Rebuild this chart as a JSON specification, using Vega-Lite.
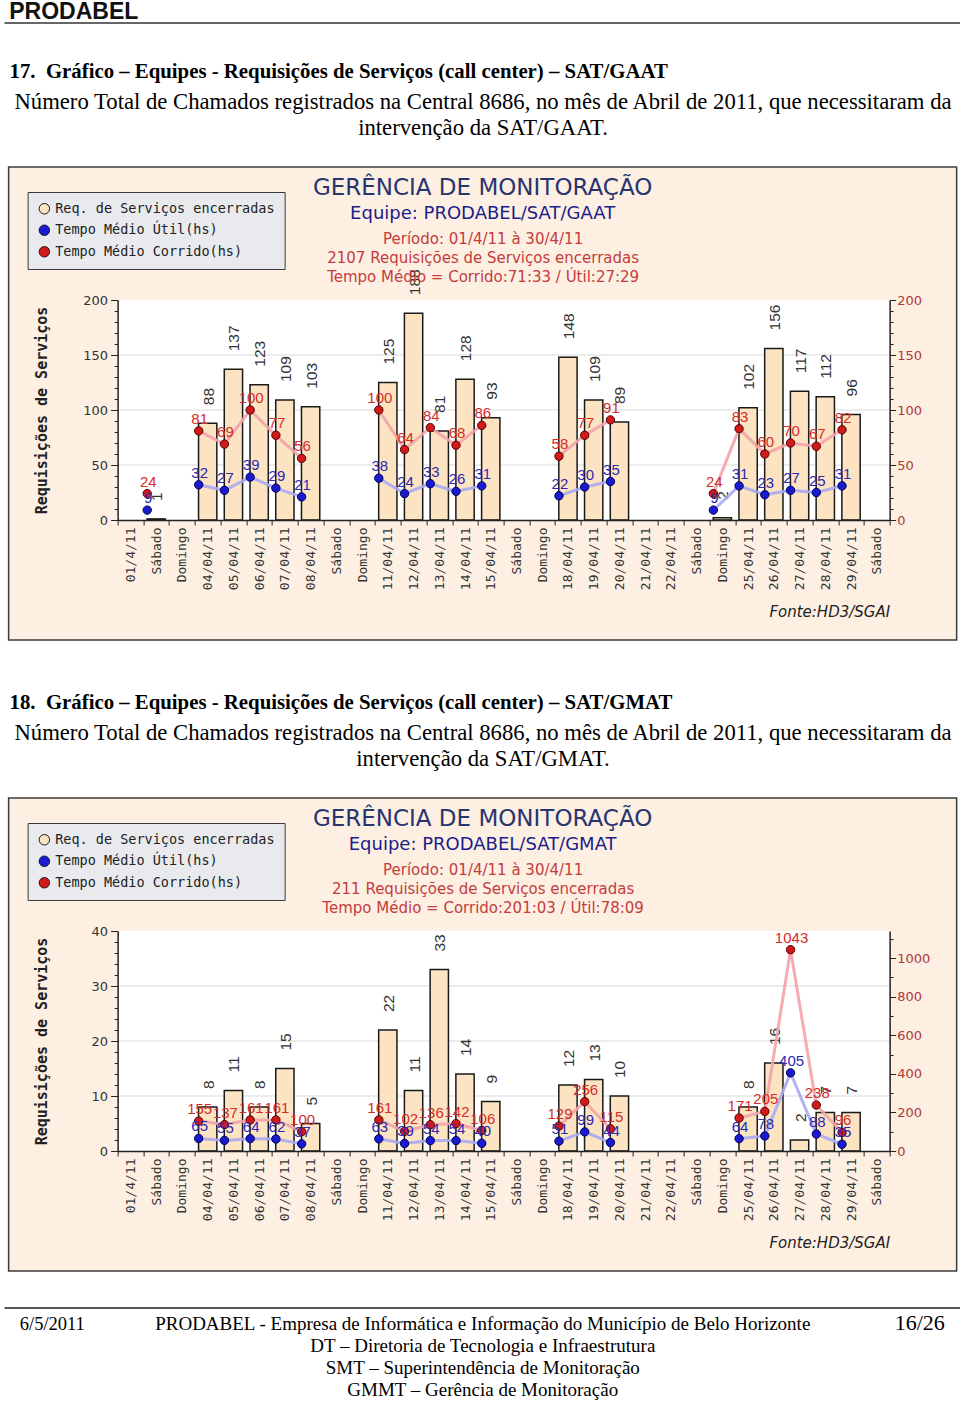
{
  "$schema": "https://vega.github.io/schema/vega-lite/v6.json",
  "background": "white",
  "padding": {"left": 3, "top": 0, "right": 0, "bottom": 0},
  "spacing": 0,
  "center": true,
  "resolve": {"scale": {"color": "independent"}, "legend": {"color": "independent"}},
  "config": {
    "view": {"stroke": null},
    "concat": {"spacing": 0},
    "title": {"fontWeight": "normal"},
    "axis": {"labelOverlap": false, "labelFlush": false, "grid": false}
  },
  "datasets": {
    "gaat": [
      {"dia": 1, "req": null, "util": null, "corrido": null},
      {"dia": 2, "req": 1, "util": 9, "corrido": 24},
      {"dia": 3, "req": null, "util": null, "corrido": null},
      {"dia": 4, "req": 88, "util": 32, "corrido": 81},
      {"dia": 5, "req": 137, "util": 27, "corrido": 69},
      {"dia": 6, "req": 123, "util": 39, "corrido": 100},
      {"dia": 7, "req": 109, "util": 29, "corrido": 77},
      {"dia": 8, "req": 103, "util": 21, "corrido": 56},
      {"dia": 9, "req": null, "util": null, "corrido": null},
      {"dia": 10, "req": null, "util": null, "corrido": null},
      {"dia": 11, "req": 125, "util": 38, "corrido": 100},
      {"dia": 12, "req": 188, "util": 24, "corrido": 64},
      {"dia": 13, "req": 81, "util": 33, "corrido": 84},
      {"dia": 14, "req": 128, "util": 26, "corrido": 68},
      {"dia": 15, "req": 93, "util": 31, "corrido": 86},
      {"dia": 16, "req": null, "util": null, "corrido": null},
      {"dia": 17, "req": null, "util": null, "corrido": null},
      {"dia": 18, "req": 148, "util": 22, "corrido": 58},
      {"dia": 19, "req": 109, "util": 30, "corrido": 77},
      {"dia": 20, "req": 89, "util": 35, "corrido": 91},
      {"dia": 21, "req": null, "util": null, "corrido": null},
      {"dia": 22, "req": null, "util": null, "corrido": null},
      {"dia": 23, "req": null, "util": null, "corrido": null},
      {"dia": 24, "req": 2, "util": 9, "corrido": 24},
      {"dia": 25, "req": 102, "util": 31, "corrido": 83},
      {"dia": 26, "req": 156, "util": 23, "corrido": 60},
      {"dia": 27, "req": 117, "util": 27, "corrido": 70},
      {"dia": 28, "req": 112, "util": 25, "corrido": 67},
      {"dia": 29, "req": 96, "util": 31, "corrido": 82},
      {"dia": 30, "req": null, "util": null, "corrido": null}
    ],
    "gmat": [
      {"dia": 1, "req": null, "util": null, "corrido": null},
      {"dia": 2, "req": null, "util": null, "corrido": null},
      {"dia": 3, "req": null, "util": null, "corrido": null},
      {"dia": 4, "req": 8, "util": 65, "corrido": 155},
      {"dia": 5, "req": 11, "util": 55, "corrido": 137},
      {"dia": 6, "req": 8, "util": 64, "corrido": 161},
      {"dia": 7, "req": 15, "util": 62, "corrido": 161},
      {"dia": 8, "req": 5, "util": 37, "corrido": 100},
      {"dia": 9, "req": null, "util": null, "corrido": null},
      {"dia": 10, "req": null, "util": null, "corrido": null},
      {"dia": 11, "req": 22, "util": 63, "corrido": 161},
      {"dia": 12, "req": 11, "util": 39, "corrido": 102},
      {"dia": 13, "req": 33, "util": 54, "corrido": 136},
      {"dia": 14, "req": 14, "util": 54, "corrido": 142},
      {"dia": 15, "req": 9, "util": 40, "corrido": 106},
      {"dia": 16, "req": null, "util": null, "corrido": null},
      {"dia": 17, "req": null, "util": null, "corrido": null},
      {"dia": 18, "req": 12, "util": 51, "corrido": 129},
      {"dia": 19, "req": 13, "util": 99, "corrido": 256},
      {"dia": 20, "req": 10, "util": 44, "corrido": 115},
      {"dia": 21, "req": null, "util": null, "corrido": null},
      {"dia": 22, "req": null, "util": null, "corrido": null},
      {"dia": 23, "req": null, "util": null, "corrido": null},
      {"dia": 24, "req": null, "util": null, "corrido": null},
      {"dia": 25, "req": 8, "util": 64, "corrido": 171},
      {"dia": 26, "req": 16, "util": 78, "corrido": 205},
      {"dia": 27, "req": 2, "util": 405, "corrido": 1043},
      {"dia": 28, "req": 7, "util": 88, "corrido": 238},
      {"dia": 29, "req": 7, "util": 35, "corrido": 96},
      {"dia": 30, "req": null, "util": null, "corrido": null}
    ]
  },
  "vconcat": [
    {
      "width": 957, "height": 1,
      "data": {"values": []}, "mark": "point",
      "view": {"stroke": "#666666", "strokeWidth": 1},
      "title": {"text": "PRODABEL", "anchor": "start", "frame": "group", "dx": 5, "offset": -2, "font": "Liberation Sans", "fontSize": 23, "fontWeight": "bold", "color": "#111111"}
    },
    {"width": 957, "height": 36, "data": {"values": []}, "mark": "point"},
    {
      "width": 957, "height": 8,
      "data": {"values": []}, "mark": "point",
      "title": {"text": "17.\u00a0 Gráfico – Equipes - Requisições de Serviços (call center) – SAT/GAAT", "anchor": "start", "frame": "group", "dx": 5, "offset": 0, "font": "Liberation Serif", "fontSize": 20.8, "fontWeight": "bold", "color": "#000000"}
    },
    {
      "width": 957, "height": 25.5,
      "data": {"values": []}, "mark": "point",
      "title": {"text": ["Número Total de Chamados registrados na Central 8686, no mês de Abril de 2011, que necessitaram da", "intervenção da SAT/GAAT."], "anchor": "middle", "frame": "group", "offset": 0, "lineHeight": 26, "font": "Liberation Serif", "fontSize": 22.7, "color": "#000000"}
    },
    {
      "width": 948, "height": 473,
      "data": {"name": "gaat"},
      "view": {"fill": "#fdf0e3", "stroke": "#3c3c3c", "strokeWidth": 1.5},
      "title": {"text": "GERÊNCIA DE MONITORAÇÃO", "subtitle": "Equipe: PRODABEL/SAT/GAAT", "anchor": "middle", "frame": "group", "offset": -56.3, "font": "DejaVu Sans", "fontSize": 23, "color": "#28356f", "subtitleFont": "DejaVu Sans", "subtitleFontSize": 18, "subtitleColor": "#1c1c8a", "subtitlePadding": 5},
      "layer": [
        {
          "layer": [
            {
              "data": {"values": [{"area": "plot"}]},
              "mark": {"type": "rect", "fill": "white"},
              "encoding": {
                "x": {"datum": 0.5, "type": "quantitative", "scale": {"domain": [0.5, 30.5], "range": [109, 881], "nice": false, "zero": false, "padding": 0}},
                "x2": {"datum": 30.5},
                "y": {"datum": 0, "type": "quantitative", "scale": {"domain": [0, 200], "range": [353, 133], "nice": false, "zero": true}},
                "y2": {"datum": 200}
              }
            },
            {
              "data": {"values": [{"grade": 50}, {"grade": 100}, {"grade": 150}]},
              "mark": {"type": "rule", "color": "#d9d9d9", "strokeWidth": 1},
              "encoding": {
                "x": {"datum": 0.5, "type": "quantitative"},
                "x2": {"datum": 30.5},
                "y": {"field": "grade", "type": "quantitative"}
              }
            },
            {
              "mark": {"type": "bar", "width": 18.3, "stroke": "#1a1a1a", "strokeWidth": 1.5, "invalid": "filter"},
              "encoding": {
                "x": {"field": "dia", "type": "quantitative", "axis": {
                  "orient": "bottom", "offset": -120, "zindex": 1, "labelOverlap": false, "labelFlush": false, "tickCount": 1000,
                  "values": [0.5,1.5,2.5,3.5,4.5,5.5,6.5,7.5,8.5,9.5,10.5,11.5,12.5,13.5,14.5,15.5,16.5,17.5,18.5,19.5,20.5,21.5,22.5,23.5,24.5,25.5,26.5,27.5,28.5,29.5,30.5],
                  "labelExpr": "datum.value > 30 ? '' : ['01/4/11','Sábado','Domingo','04/04/11','05/04/11','06/04/11','07/04/11','08/04/11','Sábado','Domingo','11/04/11','12/04/11','13/04/11','14/04/11','15/04/11','Sábado','Domingo','18/04/11','19/04/11','20/04/11','21/04/11','22/04/11','Sábado','Domingo','25/04/11','26/04/11','27/04/11','28/04/11','29/04/11','Sábado'][round(datum.value - 0.5)]",
                  "labelOffset": 12.87, "labelAngle": 270, "labelAlign": "right", "labelBaseline": "middle", "labelPadding": 2,
                  "labelFont": "DejaVu Sans Mono", "labelFontSize": 13, "labelColor": "#333333", "labelBound": false,
                  "tickSize": 5, "tickColor": "#222222", "domainColor": "#222222", "domainWidth": 1.5,
                  "title": "Fonte:HD3/SGAI", "titleX": 881, "titleY": 96, "titleAlign": "right", "titleBaseline": "alphabetic",
                  "titleFont": "DejaVu Sans", "titleFontStyle": "italic", "titleFontSize": 15, "titleFontWeight": "normal", "titleColor": "#222222"
                }},
                "y": {"field": "req", "type": "quantitative", "axis": {
                  "orient": "left", "offset": -109, "zindex": 1, "labelOverlap": false, "labelFlush": false, "tickCount": 1000, "format": "d",
                  "values": [0,10,20,30,40,50,60,70,80,90,100,110,120,130,140,150,160,170,180,190,200],
                  "labelExpr": "datum.value % 50 === 0 ? datum.label : ''",
                  "tickSize": {"condition": {"test": "datum.value % 50 === 0", "value": 7}, "value": 3.5},
                  "labelPadding": 3, "labelFont": "DejaVu Sans", "labelFontSize": 13, "labelColor": "#333333",
                  "tickColor": "#222222", "domainColor": "#222222", "domainWidth": 1.5,
                  "title": "Requisições de Serviços", "titleX": -76, "titleY": 243, "titleAngle": 270, "titleAlign": "center", "titleBaseline": "middle",
                  "titleFont": "DejaVu Sans Mono", "titleFontWeight": "bold", "titleFontSize": 15, "titleColor": "#222222"
                }},
                "color": {"datum": "Req. de Serviços encerradas", "type": "nominal",
                  "scale": {"domain": ["Req. de Serviços encerradas", "Tempo Médio Útil(hs)", "Tempo Médio Corrido(hs)"], "range": ["#fce4c2", "#1a1ad0", "#d21a1a"]},
                  "legend": {"title": null, "orient": "none", "legendX": 19, "legendY": 25, "direction": "vertical",
                    "fillColor": "#e8eaee", "strokeColor": "#3a3a3a", "padding": 10,
                    "symbolType": "circle", "symbolSize": 110, "symbolStrokeWidth": 1,
                    "labelFont": "DejaVu Sans Mono", "labelFontSize": 13.5, "labelColor": "#222222", "labelOffset": 4, "rowPadding": 6.5, "labelLimit": 400,
                    "encode": {"symbols": {
                      "shape": {"condition": {"test": "datum.value === 'Req. de Serviços encerradas'", "value": "square"}, "value": "circle"},
                      "stroke": {"condition": {"test": "datum.value === 'Req. de Serviços encerradas'", "value": "#555555"}, "value": "#333333"},
                      "strokeWidth": {"value": 1}
                    }}
                  }
                }
              }
            },
            {
              "mark": {"type": "text", "angle": 270, "align": "left", "baseline": "middle", "dx": 18, "dy": 1, "font": "Liberation Sans", "fontSize": 15.5, "color": "#333333", "invalid": "filter"},
              "encoding": {
                "x": {"field": "dia", "type": "quantitative"},
                "y": {"field": "req", "type": "quantitative"},
                "text": {"field": "req", "type": "quantitative"}
              }
            }
          ]
        },
        {
          "layer": [
            {
              "mark": {"type": "line", "stroke": "#f3a3aa", "strokeWidth": 3, "opacity": 0.9, "xOffset": -9, "invalid": "break-paths-filter-domains"},
              "encoding": {
                "x": {"field": "dia", "type": "quantitative"},
                "y": {"field": "corrido", "type": "quantitative", "scale": {"domain": [0, 200], "range": [353, 133], "nice": false, "zero": true}, "axis": {
                  "orient": "right", "offset": -67, "zindex": 1, "labelOverlap": false, "labelFlush": false, "tickCount": 1000, "format": "d",
                  "values": [0,10,20,30,40,50,60,70,80,90,100,110,120,130,140,150,160,170,180,190,200],
                  "labelExpr": "datum.value % 50 === 0 ? datum.label : ''",
                  "tickSize": {"condition": {"test": "datum.value % 50 === 0", "value": 6}, "value": 3.5},
                  "labelPadding": 1, "labelFont": "DejaVu Sans", "labelFontSize": 13, "labelColor": "#b03636",
                  "tickColor": "#222222", "domainColor": "#222222", "domainWidth": 1.5,
                  "title": ["Período: 01/4/11 à 30/4/11", "2107 Requisições de Serviços encerradas", "Tempo Médio = Corrido:71:33 / Útil:27:29"],
                  "titleAngle": 0, "titleX": -407, "titleY": 76, "titleAlign": "center", "titleBaseline": "alphabetic", "titleLineHeight": 19,
                  "titleFont": "DejaVu Sans", "titleFontSize": 15, "titleFontWeight": "normal", "titleColor": "#c43c3c"
                }}
              }
            },
            {
              "mark": {"type": "line", "stroke": "#a9a9f2", "strokeWidth": 3, "opacity": 0.9, "xOffset": -9, "invalid": "break-paths-filter-domains"},
              "encoding": {
                "x": {"field": "dia", "type": "quantitative"},
                "y": {"field": "util", "type": "quantitative"}
              }
            },
            {
              "mark": {"type": "point", "filled": true, "size": 70, "stroke": "#550000", "strokeWidth": 1, "opacity": 1, "xOffset": -9, "invalid": "filter"},
              "encoding": {
                "x": {"field": "dia", "type": "quantitative"},
                "y": {"field": "corrido", "type": "quantitative"},
                "color": {"datum": "Tempo Médio Corrido(hs)", "type": "nominal"}
              }
            },
            {
              "mark": {"type": "point", "filled": true, "size": 70, "stroke": "#000055", "strokeWidth": 1, "opacity": 1, "xOffset": -9, "invalid": "filter"},
              "encoding": {
                "x": {"field": "dia", "type": "quantitative"},
                "y": {"field": "util", "type": "quantitative"},
                "color": {"datum": "Tempo Médio Útil(hs)", "type": "nominal"}
              }
            },
            {
              "mark": {"type": "text", "dx": -8, "dy": -7, "align": "center", "baseline": "alphabetic", "font": "Liberation Sans", "fontSize": 15, "color": "#d42c2c", "invalid": "filter"},
              "encoding": {
                "x": {"field": "dia", "type": "quantitative"},
                "y": {"field": "corrido", "type": "quantitative"},
                "text": {"field": "corrido", "type": "quantitative"}
              }
            },
            {
              "mark": {"type": "text", "dx": -8, "dy": -7, "align": "center", "baseline": "alphabetic", "font": "Liberation Sans", "fontSize": 15, "color": "#2a2ab4", "invalid": "filter"},
              "encoding": {
                "x": {"field": "dia", "type": "quantitative"},
                "y": {"field": "util", "type": "quantitative"},
                "text": {"field": "util", "type": "quantitative"}
              }
            }
          ]
        }
      ],
      "resolve": {"scale": {"y": "independent"}, "axis": {"y": "independent"}}
    },
    {"width": 957, "height": 51, "data": {"values": []}, "mark": "point"},
    {
      "width": 957, "height": 8,
      "data": {"values": []}, "mark": "point",
      "title": {"text": "18.\u00a0 Gráfico – Equipes - Requisições de Serviços (call center) – SAT/GMAT", "anchor": "start", "frame": "group", "dx": 5, "offset": 0, "font": "Liberation Serif", "fontSize": 20.8, "fontWeight": "bold", "color": "#000000"}
    },
    {
      "width": 957, "height": 25.5,
      "data": {"values": []}, "mark": "point",
      "title": {"text": ["Número Total de Chamados registrados na Central 8686, no mês de Abril de 2011, que necessitaram da", "intervenção da SAT/GMAT."], "anchor": "middle", "frame": "group", "offset": 0, "lineHeight": 26, "font": "Liberation Serif", "fontSize": 22.7, "color": "#000000"}
    },
    {
      "width": 948, "height": 473,
      "data": {"name": "gmat"},
      "view": {"fill": "#fdf0e3", "stroke": "#3c3c3c", "strokeWidth": 1.5},
      "title": {"text": "GERÊNCIA DE MONITORAÇÃO", "subtitle": "Equipe: PRODABEL/SAT/GMAT", "anchor": "middle", "frame": "group", "offset": -56.3, "font": "DejaVu Sans", "fontSize": 23, "color": "#28356f", "subtitleFont": "DejaVu Sans", "subtitleFontSize": 18, "subtitleColor": "#1c1c8a", "subtitlePadding": 5},
      "layer": [
        {
          "layer": [
            {
              "data": {"values": [{"area": "plot"}]},
              "mark": {"type": "rect", "fill": "white"},
              "encoding": {
                "x": {"datum": 0.5, "type": "quantitative", "scale": {"domain": [0.5, 30.5], "range": [109, 881], "nice": false, "zero": false, "padding": 0}},
                "x2": {"datum": 30.5},
                "y": {"datum": 0, "type": "quantitative", "scale": {"domain": [0, 40], "range": [353, 133], "nice": false, "zero": true}},
                "y2": {"datum": 40}
              }
            },
            {
              "data": {"values": [{"grade": 10}, {"grade": 20}, {"grade": 30}]},
              "mark": {"type": "rule", "color": "#d9d9d9", "strokeWidth": 1},
              "encoding": {
                "x": {"datum": 0.5, "type": "quantitative"},
                "x2": {"datum": 30.5},
                "y": {"field": "grade", "type": "quantitative"}
              }
            },
            {
              "mark": {"type": "bar", "width": 18.3, "stroke": "#1a1a1a", "strokeWidth": 1.5, "invalid": "filter"},
              "encoding": {
                "x": {"field": "dia", "type": "quantitative", "axis": {
                  "orient": "bottom", "offset": -120, "zindex": 1, "labelOverlap": false, "labelFlush": false, "tickCount": 1000,
                  "values": [0.5,1.5,2.5,3.5,4.5,5.5,6.5,7.5,8.5,9.5,10.5,11.5,12.5,13.5,14.5,15.5,16.5,17.5,18.5,19.5,20.5,21.5,22.5,23.5,24.5,25.5,26.5,27.5,28.5,29.5,30.5],
                  "labelExpr": "datum.value > 30 ? '' : ['01/4/11','Sábado','Domingo','04/04/11','05/04/11','06/04/11','07/04/11','08/04/11','Sábado','Domingo','11/04/11','12/04/11','13/04/11','14/04/11','15/04/11','Sábado','Domingo','18/04/11','19/04/11','20/04/11','21/04/11','22/04/11','Sábado','Domingo','25/04/11','26/04/11','27/04/11','28/04/11','29/04/11','Sábado'][round(datum.value - 0.5)]",
                  "labelOffset": 12.87, "labelAngle": 270, "labelAlign": "right", "labelBaseline": "middle", "labelPadding": 2,
                  "labelFont": "DejaVu Sans Mono", "labelFontSize": 13, "labelColor": "#333333", "labelBound": false,
                  "tickSize": 5, "tickColor": "#222222", "domainColor": "#222222", "domainWidth": 1.5,
                  "title": "Fonte:HD3/SGAI", "titleX": 881, "titleY": 96, "titleAlign": "right", "titleBaseline": "alphabetic",
                  "titleFont": "DejaVu Sans", "titleFontStyle": "italic", "titleFontSize": 15, "titleFontWeight": "normal", "titleColor": "#222222"
                }},
                "y": {"field": "req", "type": "quantitative", "axis": {
                  "orient": "left", "offset": -109, "zindex": 1, "labelOverlap": false, "labelFlush": false, "tickCount": 1000, "format": "d",
                  "values": [0,2,4,6,8,10,12,14,16,18,20,22,24,26,28,30,32,34,36,38,40],
                  "labelExpr": "datum.value % 10 === 0 ? datum.label : ''",
                  "tickSize": {"condition": {"test": "datum.value % 10 === 0", "value": 7}, "value": 3.5},
                  "labelPadding": 3, "labelFont": "DejaVu Sans", "labelFontSize": 13, "labelColor": "#333333",
                  "tickColor": "#222222", "domainColor": "#222222", "domainWidth": 1.5,
                  "title": "Requisições de Serviços", "titleX": -76, "titleY": 243, "titleAngle": 270, "titleAlign": "center", "titleBaseline": "middle",
                  "titleFont": "DejaVu Sans Mono", "titleFontWeight": "bold", "titleFontSize": 15, "titleColor": "#222222"
                }},
                "color": {"datum": "Req. de Serviços encerradas", "type": "nominal",
                  "scale": {"domain": ["Req. de Serviços encerradas", "Tempo Médio Útil(hs)", "Tempo Médio Corrido(hs)"], "range": ["#fce4c2", "#1a1ad0", "#d21a1a"]},
                  "legend": {"title": null, "orient": "none", "legendX": 19, "legendY": 25, "direction": "vertical",
                    "fillColor": "#e8eaee", "strokeColor": "#3a3a3a", "padding": 10,
                    "symbolType": "circle", "symbolSize": 110, "symbolStrokeWidth": 1,
                    "labelFont": "DejaVu Sans Mono", "labelFontSize": 13.5, "labelColor": "#222222", "labelOffset": 4, "rowPadding": 6.5, "labelLimit": 400,
                    "encode": {"symbols": {
                      "shape": {"condition": {"test": "datum.value === 'Req. de Serviços encerradas'", "value": "square"}, "value": "circle"},
                      "stroke": {"condition": {"test": "datum.value === 'Req. de Serviços encerradas'", "value": "#555555"}, "value": "#333333"},
                      "strokeWidth": {"value": 1}
                    }}
                  }
                }
              }
            },
            {
              "mark": {"type": "text", "angle": 270, "align": "left", "baseline": "middle", "dx": 18, "dy": 1, "font": "Liberation Sans", "fontSize": 15.5, "color": "#333333", "invalid": "filter"},
              "encoding": {
                "x": {"field": "dia", "type": "quantitative"},
                "y": {"field": "req", "type": "quantitative"},
                "text": {"field": "req", "type": "quantitative"}
              }
            }
          ]
        },
        {
          "layer": [
            {
              "mark": {"type": "line", "stroke": "#f3a3aa", "strokeWidth": 3, "opacity": 0.9, "xOffset": -9, "invalid": "break-paths-filter-domains"},
              "encoding": {
                "x": {"field": "dia", "type": "quantitative"},
                "y": {"field": "corrido", "type": "quantitative", "scale": {"domain": [0, 1140], "range": [353, 133], "nice": false, "zero": true}, "axis": {
                  "orient": "right", "offset": -67, "zindex": 1, "labelOverlap": false, "labelFlush": false, "tickCount": 1000, "format": "d",
                  "values": [0,100,200,300,400,500,600,700,800,900,1000,1100],
                  "labelExpr": "datum.value % 200 === 0 ? datum.label : ''",
                  "tickSize": {"condition": {"test": "datum.value % 200 === 0", "value": 6}, "value": 3.5},
                  "labelPadding": 1, "labelFont": "DejaVu Sans", "labelFontSize": 13, "labelColor": "#b03636",
                  "tickColor": "#222222", "domainColor": "#222222", "domainWidth": 1.5,
                  "title": ["Período: 01/4/11 à 30/4/11", "211 Requisições de Serviços encerradas", "Tempo Médio = Corrido:201:03 / Útil:78:09"],
                  "titleAngle": 0, "titleX": -407, "titleY": 76, "titleAlign": "center", "titleBaseline": "alphabetic", "titleLineHeight": 19,
                  "titleFont": "DejaVu Sans", "titleFontSize": 15, "titleFontWeight": "normal", "titleColor": "#c43c3c"
                }}
              }
            },
            {
              "mark": {"type": "line", "stroke": "#a9a9f2", "strokeWidth": 3, "opacity": 0.9, "xOffset": -9, "invalid": "break-paths-filter-domains"},
              "encoding": {
                "x": {"field": "dia", "type": "quantitative"},
                "y": {"field": "util", "type": "quantitative"}
              }
            },
            {
              "mark": {"type": "point", "filled": true, "size": 70, "stroke": "#550000", "strokeWidth": 1, "opacity": 1, "xOffset": -9, "invalid": "filter"},
              "encoding": {
                "x": {"field": "dia", "type": "quantitative"},
                "y": {"field": "corrido", "type": "quantitative"},
                "color": {"datum": "Tempo Médio Corrido(hs)", "type": "nominal"}
              }
            },
            {
              "mark": {"type": "point", "filled": true, "size": 70, "stroke": "#000055", "strokeWidth": 1, "opacity": 1, "xOffset": -9, "invalid": "filter"},
              "encoding": {
                "x": {"field": "dia", "type": "quantitative"},
                "y": {"field": "util", "type": "quantitative"},
                "color": {"datum": "Tempo Médio Útil(hs)", "type": "nominal"}
              }
            },
            {
              "mark": {"type": "text", "dx": -8, "dy": -7, "align": "center", "baseline": "alphabetic", "font": "Liberation Sans", "fontSize": 15, "color": "#d42c2c", "invalid": "filter"},
              "encoding": {
                "x": {"field": "dia", "type": "quantitative"},
                "y": {"field": "corrido", "type": "quantitative"},
                "text": {"field": "corrido", "type": "quantitative"}
              }
            },
            {
              "mark": {"type": "text", "dx": -8, "dy": -7, "align": "center", "baseline": "alphabetic", "font": "Liberation Sans", "fontSize": 15, "color": "#2a2ab4", "invalid": "filter"},
              "encoding": {
                "x": {"field": "dia", "type": "quantitative"},
                "y": {"field": "util", "type": "quantitative"},
                "text": {"field": "util", "type": "quantitative"}
              }
            }
          ]
        }
      ],
      "resolve": {"scale": {"y": "independent"}, "axis": {"y": "independent"}}
    },
    {"width": 957, "height": 32, "data": {"values": []}, "mark": "point"},
    {
      "width": 957, "height": 1,
      "data": {"values": [{"t": "6/5/2011"}, {"t": "16/26"}]},
      "mark": {"type": "point", "opacity": 0},
      "view": {"stroke": "#555555", "strokeWidth": 1},
      "encoding": {
        "x": {"field": "t", "type": "ordinal", "sort": null, "scale": {"type": "point", "range": [15, 940], "padding": 0}, "axis": {
          "orient": "bottom", "domain": false, "ticks": false, "labelAngle": 0, "labelOverlap": false,
          "labelPadding": 21, "labelBaseline": "alphabetic",
          "labelAlign": {"condition": {"test": "datum.value === '16/26'", "value": "right"}, "value": "left"},
          "labelFont": "Liberation Serif",
          "labelFontSize": {"condition": {"test": "datum.value === '16/26'", "value": 22}, "value": 18.5},
          "labelColor": "#000000",
          "title": ["PRODABEL - Empresa de Informática e Informação do Município de Belo Horizonte", "DT – Diretoria de Tecnologia e Infraestrutura", "SMT – Superintendência de Monitoração", "GMMT – Gerência de Monitoração"],
          "titleX": 478, "titleY": 21, "titleAngle": 0, "titleAlign": "center", "titleBaseline": "alphabetic", "titleLineHeight": 22,
          "titleFont": "Liberation Serif", "titleFontSize": 19, "titleFontWeight": "normal", "titleColor": "#000000"
        }}
      }
    }
  ]
}
